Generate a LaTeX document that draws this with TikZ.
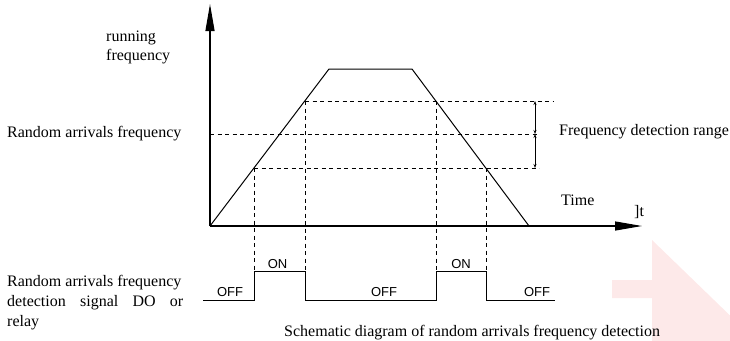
\documentclass[tikz,border=0pt]{standalone}
\usepackage{fontspec}
\setmainfont{Liberation Serif}
\newfontfamily\sansf{Liberation Sans}
\usetikzlibrary{arrows.meta}
\definecolor{wmark}{HTML}{FDE9E9}
\begin{document}
\begin{tikzpicture}[x=1pt,y=-1pt,
  axis/.style={line width=1.2pt,-{Triangle[length=27pt,width=9pt]}},
  curve/.style={line width=1pt},
  guide/.style={line width=1pt,dash pattern=on 4pt off 3.5pt},
  lbl/.style={inner sep=0pt,anchor=base west,font=\fontsize{16}{19}\selectfont},
  sig/.style={inner sep=0pt,font=\sansf\fontsize{13}{15}\selectfont},
  rangearrow/.style={line width=1pt,{Stealth[length=4pt,width=3pt]}-{Stealth[length=4pt,width=3pt]}},
]
\useasboundingbox (0,0) rectangle (730,340);
% watermark
\begin{scope}
\clip (0,0) rectangle (730,340);
\fill[wmark] (612,280) -- (652,280) -- (652,240) -- (745,330) -- (652,420) -- (652,298) -- (612,298) -- cycle;
\end{scope}
% key points
\coordinate (O) at (210,226);
\coordinate (Ytop) at (210,4);
\coordinate (Xend) at (642,226);
\coordinate (A) at (329,69);
\coordinate (B) at (412,69);
\coordinate (C) at (529,226);
\coordinate (U1) at (305,101);
\coordinate (U2) at (436,101);
\coordinate (L1) at (254,168);
\coordinate (L2) at (486,168);
\coordinate (Ym) at (210,134);
\coordinate (Tend) at (553,101);
\coordinate (Mend) at (537,134);
\coordinate (Bend) at (539,168);
\coordinate (Rt) at (535,101);
\coordinate (Rm) at (535,134);
\coordinate (Rb) at (535,168);
% signal
\coordinate (S0) at (203,300);
\coordinate (S1) at (254,300);
\coordinate (S2) at (254,271);
\coordinate (S3) at (305,271);
\coordinate (S4) at (305,300);
\coordinate (S5) at (436,300);
\coordinate (S6) at (436,271);
\coordinate (S7) at (486,271);
\coordinate (S8) at (486,300);
\coordinate (S9) at (555,300);
% axes
\draw[axis] (O) -- (Ytop);
\draw[axis] (O) -- (Xend);
% frequency curve
\draw[curve] (O) -- (A) -- (B) -- (C);
% dashed guides
\draw[guide] (U1) -- (Tend);
\draw[guide] (Ym) -- (Mend);
\draw[guide] (L1) -- (Bend);
\draw[guide] (L1) -- (S2);
\draw[guide] (U1) -- (S3);
\draw[guide] (U2) -- (S6);
\draw[guide] (L2) -- (S7);
% range arrows
\draw[rangearrow] (Rt) -- (Rm);
\draw[rangearrow] (Rm) -- (Rb);
% signal
\draw[curve] (S0) -- (S1) -- (S2) -- (S3) -- (S4) -- (S5) -- (S6) -- (S7) -- (S8) -- (S9);
% labels
\node[lbl] (run1) at (106,41) {running};
\node[lbl] (run2) at (106,60) {frequency};
\node[lbl] (raf) at (7,137) {Random arrivals frequency};
\node[lbl] (fdr) at (559,135) {Frequency detection range};
\node[lbl] (time) at (561,205) {Time};
\node[lbl] (tt) at (634,216) {]t};
\node[lbl] (d1) at (7,286) {Random arrivals frequency};
\node[lbl] (d2) at (7,306) {\makebox[176pt][s]{detection signal DO or}};
\node[lbl] (d3) at (7,326) {relay};
\node[lbl] (cap) at (284,336) {Schematic diagram of random arrivals frequency detection};
\node[sig] (off1) at (230,292.5) {OFF};
\node[sig] (on1) at (277.5,264) {ON};
\node[sig] (off2) at (384,292.5) {OFF};
\node[sig] (on2) at (461,264) {ON};
\node[sig] (off3) at (537,292.5) {OFF};
\end{tikzpicture}
\end{document}
